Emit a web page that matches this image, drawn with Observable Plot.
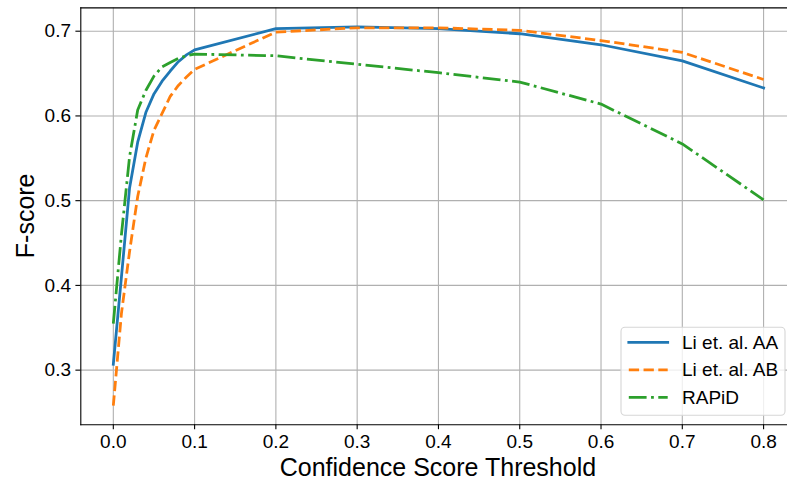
<!DOCTYPE html>
<html>
<head>
<meta charset="utf-8">
<script src="https://cdn.jsdelivr.net/npm/d3@7"></script>
<script src="https://cdn.jsdelivr.net/npm/@observablehq/plot@0.6"></script>
<style>
  html, body { margin: 0; padding: 0; background: white; overflow: hidden; }
  #chart { width: 787px; height: 484px; }
</style>
</head>
<body>
<div id="chart"></div>
<script>
// ---- data ----
const thresholds = [0, 0.01, 0.02, 0.03, 0.04, 0.05, 0.06, 0.07, 0.08, 0.09, 0.1, 0.2, 0.3, 0.4, 0.5, 0.6, 0.7, 0.8];
const liAA  = [0.307, 0.410, 0.515, 0.569, 0.604, 0.626, 0.641, 0.653, 0.664, 0.672, 0.678, 0.703, 0.705, 0.703, 0.697, 0.684, 0.665, 0.633];
const liAB  = [0.258, 0.367, 0.440, 0.505, 0.550, 0.583, 0.603, 0.623, 0.636, 0.646, 0.655, 0.699, 0.704, 0.704, 0.701, 0.689, 0.675, 0.643];
const rapid = [0.355, 0.460, 0.552, 0.607, 0.630, 0.647, 0.658, 0.663, 0.668, 0.671, 0.673, 0.671, 0.661, 0.651, 0.640, 0.614, 0.567, 0.501];
const seriesNames = ["Li et. al. AA", "Li et. al. AB", "RAPiD"];
const xTicks = [0, 0.1, 0.2, 0.3, 0.4, 0.5, 0.6, 0.7, 0.8];
const yTicks = [0.3, 0.4, 0.5, 0.6, 0.7];
const xLabel = "Confidence Score Threshold";
const yLabel = "F-score";

// ---- styles ----
const colors = ["#1f77b4", "#ff7f0e", "#2ca02c"];
const dashes = [null, "10.3 4.45", "17.8 4.45 2.78 4.45"];
const lw = 2.78;
const font = "'Liberation Sans', Arial, Helvetica, sans-serif";

const seriesValues = [liAA, liAB, rapid];
const rows = seriesValues.map((vals, i) => thresholds.map((t, j) => ({t, v: vals[j], s: seriesNames[i]})));

const W = 787, H = 484;
const mL = 80.3, mR = -8.6, mT = 7.4, mB = 59.7;

const svg = Plot.plot({
  width: W, height: H,
  marginLeft: mL, marginRight: mR, marginTop: mT, marginBottom: mB,
  style: {fontFamily: font, fontSize: "19px", color: "black", background: "white", overflow: "hidden"},
  x: {domain: [-0.04, 0.84], range: [mL, W - mR]},
  y: {domain: [0.2355, 0.7275], range: [H - mB, mT]},
  marks: [
    Plot.gridX({ticks: xTicks, stroke: "#b0b0b0", strokeOpacity: 1, strokeWidth: 1.1}),
    Plot.gridY({ticks: yTicks, stroke: "#b0b0b0", strokeOpacity: 1, strokeWidth: 1.1}),
    Plot.axisX({ticks: xTicks, tickSize: 4.9, tickPadding: 5, strokeWidth: 1.1, tickFormat: d => d.toFixed(1), label: null, fontSize: 19, fill: "black"}),
    Plot.axisY({ticks: yTicks, tickSize: 4.9, tickPadding: 4.9, strokeWidth: 1.1, tickFormat: d => d.toFixed(1), label: null, fontSize: 19, fill: "black"}),
    ...rows.map((r, i) => Plot.line(r, {
      x: "t", y: "v", stroke: colors[i], strokeWidth: lw,
      strokeDasharray: dashes[i] || undefined,
      strokeLinecap: dashes[i] ? "butt" : "square", strokeLinejoin: "round"
    })),
    Plot.frame({anchor: "top", stroke: "black", strokeWidth: 1.1}),
    Plot.frame({anchor: "left", stroke: "black", strokeWidth: 1.1}),
    Plot.frame({anchor: "bottom", stroke: "black", strokeWidth: 1.1})
  ]
});

document.getElementById("chart").appendChild(svg);

// ---- axis labels ----
const s = d3.select(svg);
s.append("text")
  .attr("x", (mL + W - mR) / 2).attr("y", 476)
  .attr("text-anchor", "middle")
  .attr("font-family", font).attr("font-size", 25).attr("fill", "black")
  .text(xLabel);
s.append("text")
  .attr("transform", `translate(33.5, ${(mT + H - mB) / 2}) rotate(-90)`)
  .attr("text-anchor", "middle")
  .attr("font-family", font).attr("font-size", 25).attr("fill", "black")
  .text(yLabel);

// ---- legend ----
const lg = s.append("g");
lg.append("rect")
  .attr("x", 621).attr("y", 327.3).attr("width", 164).attr("height", 88)
  .attr("rx", 4).attr("fill", "white").attr("fill-opacity", 0.8)
  .attr("stroke", "#d6d6d6").attr("stroke-width", 1.1);
seriesNames.forEach((name, i) => {
  const cy = 342.3 + i * 27.5;
  lg.append("line")
    .attr("x1", 628.8).attr("x2", 667.7).attr("y1", cy).attr("y2", cy)
    .attr("stroke", colors[i]).attr("stroke-width", lw)
    .attr("stroke-dasharray", dashes[i])
    .attr("stroke-linecap", dashes[i] ? "butt" : "square");
  lg.append("text")
    .attr("x", 682).attr("y", cy).attr("dy", "0.35em")
    .attr("text-anchor", "start")
    .attr("font-family", font).attr("font-size", 19).attr("fill", "black")
    .text(name);
});
</script>
</body>
</html>
